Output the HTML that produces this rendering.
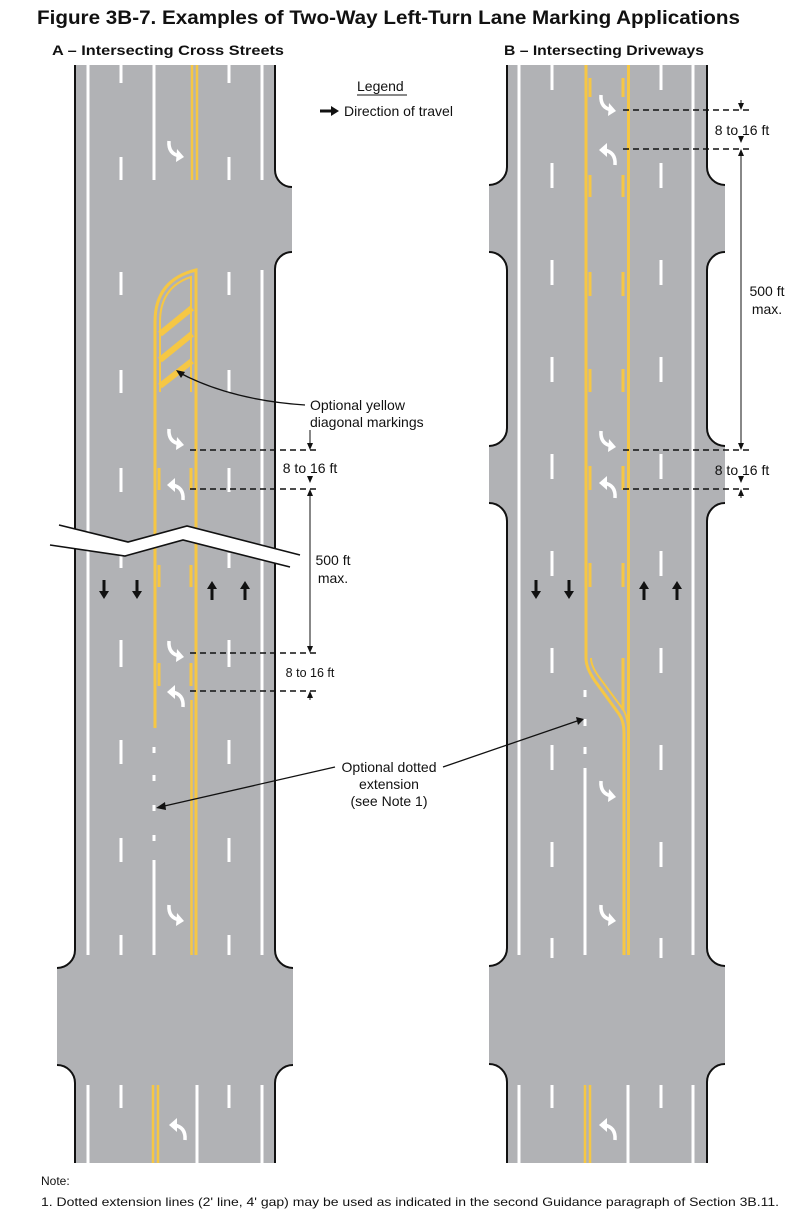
<!DOCTYPE html>
<html><head><meta charset="utf-8"><style>
html,body{margin:0;padding:0;background:#fff;}
svg{display:block;}
text{font-family:"Liberation Sans",Arial,sans-serif;fill:#111;}
</style></head><body>
<svg width="800" height="1217" viewBox="0 0 800 1217" xmlns="http://www.w3.org/2000/svg">
<defs>
<g id="ta"><path d="M-6,-9 Q-7,4 5,6" fill="none" stroke="#fff" stroke-width="3.5"/><polygon points="2,-1 9,7 1,12" fill="#fff"/></g>
<g id="tb"><path d="M7,10 Q8,-3 -4,-5" fill="none" stroke="#fff" stroke-width="3.5"/><polygon points="-1,-12 -9,-5 -1,2" fill="#fff"/></g>
<g id="da"><rect x="-1.5" y="-10" width="3" height="12" fill="#111"/><polygon points="-5,1 5,1 0,9" fill="#111"/></g>
<g id="ua"><rect x="-1.5" y="-2" width="3" height="12" fill="#111"/><polygon points="-5,-1 5,-1 0,-9" fill="#111"/></g>
</defs>

<text x="37" y="24" font-size="19" font-weight="bold" textLength="703" lengthAdjust="spacingAndGlyphs">Figure 3B-7.  Examples of Two-Way Left-Turn Lane Marking Applications</text>
<text x="52" y="55" font-size="14" font-weight="bold" textLength="232" lengthAdjust="spacingAndGlyphs">A – Intersecting Cross Streets</text>
<text x="504" y="55" font-size="14" font-weight="bold" textLength="200" lengthAdjust="spacingAndGlyphs">B – Intersecting Driveways</text>

<!-- Legend -->
<text x="357" y="91" font-size="14">Legend</text>
<line x1="357" y1="95" x2="407" y2="95" stroke="#111" stroke-width="1"/>
<line x1="320" y1="111" x2="332" y2="111" stroke="#111" stroke-width="3"/>
<polygon points="331,106 339,111 331,116" fill="#111"/>
<text x="344" y="116" font-size="14">Direction of travel</text>

<!-- ROAD A -->
<path d="M75,65 H275 V170 A17,17 0 0 0 292,187 V252 A17,17 0 0 0 275,269 V950 A18,18 0 0 0 293,968 V1065 A18,18 0 0 0 275,1083 V1163 H75 V1083 A18,18 0 0 0 57,1065 V968 A18,18 0 0 0 75,950 Z" fill="#b1b2b5"/>
<g fill="none" stroke="#111" stroke-width="2">
<path d="M75,65 V950 A18,18 0 0 1 57,968"/>
<path d="M57,1065 A18,18 0 0 1 75,1083 V1163"/>
<path d="M275,65 V170 A17,17 0 0 0 292,187"/>
<path d="M292,252 A17,17 0 0 0 275,269 V950 A18,18 0 0 0 293,968"/>
<path d="M293,1065 A18,18 0 0 0 275,1083 V1163"/>
</g>
<g stroke="#fff" stroke-width="3" fill="none">
<path d="M88,65 V955 M88,1085 V1163"/>
<path d="M262,65 V180 M262,270 V955 M262,1085 V1163"/>
<path d="M154,65 V180"/>
<path d="M121,65 V83 M121,157 V180 M229,65 V83 M229,157 V180"/>
<path d="M121,272 V295 M121,370 V393 M121,468 V492 M121,553 V568 M121,640 V667 M121,740 V764 M121,838 V862 M121,935 V955"/>
<path d="M229,272 V295 M229,370 V393 M229,468 V492 M229,553 V568 M229,640 V667 M229,740 V764 M229,838 V862 M229,935 V955"/>
<path d="M154,747 V753 M154,775 V781 M154,805 V811 M154,835 V841 M154,860 V955"/>
<path d="M121,1085 V1108 M229,1085 V1108 M197,1085 V1163"/>
</g>
<g stroke="#f6c744" fill="none">
<path d="M192,65 V180 M197,65 V180" stroke-width="2.5"/>
<path d="M155,728 V322 Q155,280 196,270 V955" stroke-width="3"/>
<path d="M191.5,700 V955" stroke-width="2.5"/>
<path d="M160,392 V322 Q160,287 191,277 V392" stroke-width="2"/>
<path d="M160,334 L192,308 M160,360 L192,334 M160,386 L192,361" stroke-width="6"/>
<path d="M159,468 V490 M191,468 V490 M159,565 V587 M191,565 V587 M159,663 V686 M191,663 V686" stroke-width="3"/>
<path d="M153,1085 V1163 M158,1085 V1163" stroke-width="2.5"/>
</g>
<!-- break line -->
<path d="M59,525 L128,542 L187,526 L300,555 L290,567 L183,540 L125,556 L50,545 Z" fill="#fff"/>
<path d="M59,525 L128,542 L187,526 L300,555 M290,567 L183,540 L125,556 L50,545" fill="none" stroke="#111" stroke-width="1.6"/>
<!-- A arrows -->
<use href="#ta" x="175" y="150"/>
<use href="#ta" x="175" y="438"/>
<use href="#tb" x="176" y="490"/>
<use href="#ta" x="175" y="650"/>
<use href="#tb" x="176" y="697"/>
<use href="#ta" x="175" y="914"/>
<use href="#tb" x="178" y="1130"/>
<use href="#da" x="104" y="590"/>
<use href="#da" x="137" y="590"/>
<use href="#ua" x="212" y="590"/>
<use href="#ua" x="245" y="590"/>

<!-- A dimensions -->
<g stroke="#111" stroke-width="1.5" stroke-dasharray="6,4" fill="none">
<path d="M190,450 H318 M190,489 H318 M190,653 H318 M190,691 H318"/>
</g>
<g stroke="#111" stroke-width="1" fill="none">
<path d="M310,430 V447 M310,492 V650 M310,694 V700 M310,636 V650"/>
</g>
<g fill="#111">
<polygon points="307,443 313,443 310,450"/>
<polygon points="307,496 313,496 310,489"/>
<polygon points="307,646 313,646 310,653"/>
<polygon points="307,698 313,698 310,691"/>
<polygon points="307,476 313,476 310,483"/>
</g>
<text x="310" y="473" font-size="14" text-anchor="middle">8 to 16 ft</text>
<text x="333" y="565" font-size="14" text-anchor="middle">500 ft</text>
<text x="333" y="583" font-size="14" text-anchor="middle">max.</text>
<text x="310" y="677" font-size="12.5" text-anchor="middle">8 to 16 ft</text>

<!-- ROAD B -->
<path d="M507,65 H707 V167 A18,18 0 0 0 725,185 V252 A18,18 0 0 0 707,270 V428 A18,18 0 0 0 725,446 V503 A18,18 0 0 0 707,521 V948 A18,18 0 0 0 725,966 V1064 A18,18 0 0 0 707,1082 V1163 H507 V1082 A18,18 0 0 0 489,1064 V966 A18,18 0 0 0 507,948 V521 A18,18 0 0 0 489,503 V446 A18,18 0 0 0 507,428 V270 A18,18 0 0 0 489,252 V185 A18,18 0 0 0 507,167 Z" fill="#b1b2b5"/>
<g fill="none" stroke="#111" stroke-width="2">
<path d="M707,65 V167 A18,18 0 0 0 725,185"/>
<path d="M725,252 A18,18 0 0 0 707,270 V428 A18,18 0 0 0 725,446"/>
<path d="M725,503 A18,18 0 0 0 707,521 V948 A18,18 0 0 0 725,966"/>
<path d="M725,1064 A18,18 0 0 0 707,1082 V1163"/>
<path d="M507,65 V167 A18,18 0 0 1 489,185"/>
<path d="M489,252 A18,18 0 0 1 507,270 V428 A18,18 0 0 1 489,446"/>
<path d="M489,503 A18,18 0 0 1 507,521 V948 A18,18 0 0 1 489,966"/>
<path d="M489,1064 A18,18 0 0 1 507,1082 V1163"/>
</g>
<g stroke="#fff" stroke-width="3" fill="none">
<path d="M519,65 V955 M519,1085 V1163 M693,65 V955 M693,1085 V1163"/>
<path d="M552,65 V90 M552,163 V188 M552,260 V285 M552,357 V382 M552,454 V479 M552,551 V576 M552,648 V673 M552,745 V770 M552,842 V867 M552,938 V958"/>
<path d="M661,65 V90 M661,163 V188 M661,260 V285 M661,357 V382 M661,454 V479 M661,551 V576 M661,648 V673 M661,745 V770 M661,842 V867 M661,938 V958"/>
<path d="M585,690 V697 M585,719 V726 M585,747 V754 M585,768 V955"/>
<path d="M552,1085 V1108 M661,1085 V1108 M628,1085 V1163"/>
</g>
<g stroke="#f6c744" fill="none">
<path d="M586,65 V658 Q586,668 595,681 L619,714 Q624,721 624,733 V955" stroke-width="3"/>
<path d="M591,658 Q591,666 599,677 L622,708 Q628,716 628,730" stroke-width="2"/>
<path d="M628.5,65 V955" stroke-width="3"/>
<path d="M590,78 V97 M623,78 V97 M590,175 V197 M623,175 V197 M590,272 V296 M623,272 V296 M590,369 V392 M623,369 V392 M590,466 V490 M623,466 V490 M590,563 V587 M623,563 V587 M623,658 V710" stroke-width="3"/>
<path d="M585,1085 V1163 M590,1085 V1163" stroke-width="2.5"/>
</g>
<use href="#ta" x="607" y="104"/>
<use href="#tb" x="608" y="155"/>
<use href="#ta" x="607" y="440"/>
<use href="#tb" x="608" y="488"/>
<use href="#ta" x="607" y="790"/>
<use href="#ta" x="607" y="914"/>
<use href="#tb" x="608" y="1130"/>
<use href="#da" x="536" y="590"/>
<use href="#da" x="569" y="590"/>
<use href="#ua" x="644" y="590"/>
<use href="#ua" x="677" y="590"/>

<!-- callouts -->
<path d="M305,405 Q230,400 178,372" fill="none" stroke="#111" stroke-width="1.3"/>
<polygon points="176,370 185,372 181,378" fill="#111"/>
<text x="310" y="410" font-size="14">Optional yellow</text>
<text x="310" y="427" font-size="14">diagonal markings</text>
<line x1="335" y1="767" x2="160" y2="807" stroke="#111" stroke-width="1.3"/>
<polygon points="156,808 165,802 166,810" fill="#111"/>
<line x1="443" y1="767" x2="580" y2="720" stroke="#111" stroke-width="1.3"/>
<polygon points="584,719 576,717 578,725" fill="#111"/>
<text x="389" y="772" font-size="14" text-anchor="middle">Optional dotted</text>
<text x="389" y="789" font-size="14" text-anchor="middle">extension</text>
<text x="389" y="806" font-size="14" text-anchor="middle">(see Note 1)</text>

<!-- B dimensions -->
<g stroke="#111" stroke-width="1.5" stroke-dasharray="6,4" fill="none">
<path d="M623,110 H750 M623,149 H750 M623,450 H750 M623,489 H750"/>
</g>
<g stroke="#111" stroke-width="1" fill="none">
<path d="M741,100 V107 M741,152 V447 M741,492 V498"/>
</g>
<g fill="#111">
<polygon points="738,103 744,103 741,110"/>
<polygon points="738,136 744,136 741,143"/>
<polygon points="738,156 744,156 741,149"/>
<polygon points="738,443 744,443 741,450"/>
<polygon points="738,476 744,476 741,483"/>
<polygon points="738,496 744,496 741,489"/>
</g>
<text x="742" y="135" font-size="14" text-anchor="middle">8 to 16 ft</text>
<text x="767" y="296" font-size="14" text-anchor="middle">500 ft</text>
<text x="767" y="314" font-size="14" text-anchor="middle">max.</text>
<text x="742" y="475" font-size="14" text-anchor="middle">8 to 16 ft</text>

<!-- Note -->
<text x="41" y="1185" font-size="12">Note:</text>
<text x="41" y="1206" font-size="12" textLength="738" lengthAdjust="spacingAndGlyphs">1. Dotted extension lines (2' line, 4' gap) may be used as indicated in the second Guidance paragraph of Section 3B.11.</text>
</svg>
</body></html>
